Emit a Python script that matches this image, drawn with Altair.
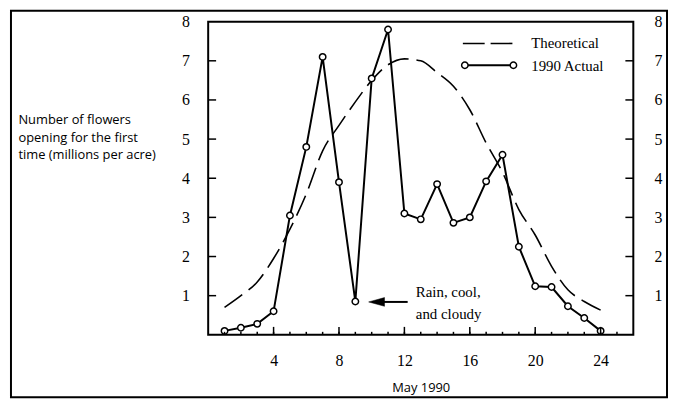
import altair as alt
import pandas as pd

# ---- data ----
days = list(range(1, 25))
actual = [0.1, 0.18, 0.28, 0.6, 3.05, 4.8, 7.1, 3.9, 0.85, 6.55, 7.8, 3.1,
          2.95, 3.85, 2.86, 3.0, 3.92, 4.6, 2.25, 1.24, 1.22, 0.73, 0.43, 0.1]
theoretical = [0.7, 1.0, 1.35, 1.95, 2.7, 3.6, 4.7, 5.35, 5.95, 6.5, 6.9, 7.05,
               7.0, 6.7, 6.35, 5.75, 4.9, 4.15, 3.2, 2.55, 1.75, 1.15, 0.85, 0.63]
x_labels = [4, 8, 12, 16, 20, 24]
x_minor_ticks = list(range(1, 26))
y_labels = [1, 2, 3, 4, 5, 6, 7, 8]
y_ticks = [1, 2, 3, 4, 5, 6, 7]
legend_labels = ["Theoretical", "1990 Actual"]
note_lines = ["Rain, cool,", "and cloudy"]
y_title = ["Number of flowers", "opening for the first", "time (millions per acre)"]
x_title = "May 1990"

SERIF = "Liberation Serif"
SANS = "Open Sans"
W, H = 429, 316

df = pd.DataFrame({"day": days, "actual": actual, "theoretical": theoretical})

xscale = alt.Scale(domain=[0, 26], nice=False, zero=False)
yscale = alt.Scale(domain=[0, 8], nice=False)

x_axis = alt.Axis(values=x_labels, title=x_title, ticks=False, tickSize=0, domain=False,
                  grid=False, labelFont=SERIF, labelFontSize=16, labelPadding=18,
                  labelColor="black", titleFont=SANS, titleFontSize=13,
                  titleFontWeight="normal", titleColor="black", titleY=53,
                  titleBaseline="middle")
y_left = alt.Axis(values=y_labels, orient="left", ticks=False, tickSize=0, domain=False,
                  grid=False, labelFont=SERIF, labelFontSize=16, labelPadding=19,
                  labelColor="black", title=y_title, titleAngle=0, titleAlign="left",
                  titleBaseline="top", titleX=-192, titleY=93, titleLineHeight=17.5,
                  titleFont=SANS, titleFontSize=13, titleFontWeight="normal",
                  titleColor="black")
y_right = alt.Axis(values=y_labels, orient="right", ticks=False, tickSize=0, domain=False,
                   grid=False, labelFont=SERIF, labelFontSize=16, labelPadding=21,
                   labelColor="black", title=None)

X = lambda f: alt.X(f, type="quantitative", scale=xscale, axis=x_axis)

theo = alt.Chart(df).mark_line(color="black", strokeWidth=1.6, strokeDash=[22, 8],
                               interpolate="monotone").encode(
    x=X("day"), y=alt.Y("theoretical:Q", scale=yscale, axis=y_left))

act_line = alt.Chart(df).mark_line(color="black", strokeWidth=2).encode(
    x=X("day"), y=alt.Y("actual:Q", scale=yscale, axis=y_right))

act_pts = alt.Chart(df).mark_point(shape="circle", filled=True, fill="white",
                                   stroke="black", strokeWidth=1.5, size=42,
                                   opacity=1).encode(
    x=X("day"), y=alt.Y("actual:Q", scale=yscale, axis=None))

# axis ticks (inward)
minor_df = pd.DataFrame({"t": x_minor_ticks})
major_df = pd.DataFrame({"t": x_labels})
ytick_df = pd.DataFrame({"v": y_ticks})

xminor = alt.Chart(minor_df).mark_rule(color="black", strokeWidth=1.5).encode(
    x=X("t"), y=alt.value(H), y2=alt.value(H - 3))
xmajor = alt.Chart(major_df).mark_rule(color="black", strokeWidth=1.5).encode(
    x=X("t"), y=alt.value(H), y2=alt.value(H - 8))
yl_ticks = alt.Chart(ytick_df).mark_rule(color="black", strokeWidth=1.5).encode(
    y=alt.Y("v:Q", scale=yscale, axis=None), x=alt.value(0), x2=alt.value(8))
yr_ticks = alt.Chart(ytick_df).mark_rule(color="black", strokeWidth=1.5).encode(
    y=alt.Y("v:Q", scale=yscale, axis=None), x=alt.value(W), x2=alt.value(W - 8))

# annotation: arrow pointing at day 9
arrow_y = 0.84
arrow_head = alt.Chart(pd.DataFrame({"x": [10.3], "y": [arrow_y]})).mark_point(
    shape="M -1 0 L 1 -0.55 L 1 0.55 Z", filled=True, fill="black", stroke="black",
    strokeWidth=0.5, size=256, opacity=1).encode(
    x=X("x"), y=alt.Y("y:Q", scale=yscale, axis=None))
arrow_shaft = alt.Chart(pd.DataFrame({"x1": [10.6], "x2": [12.2], "y": [arrow_y]})).mark_rule(
    color="black", strokeWidth=2).encode(
    x=X("x1"), x2="x2:Q", y=alt.Y("y:Q", scale=yscale, axis=None))
note = alt.Chart(pd.DataFrame({"x": [12.7, 12.7], "y": [1.09, 0.53],
                               "txt": note_lines})).mark_text(
    align="left", baseline="middle", font=SERIF, fontSize=15, color="black").encode(
    x=X("x"), y=alt.Y("y:Q", scale=yscale, axis=None), text="txt:N")

# legend (drawn inside the plot, top right)
one = pd.DataFrame({"a": [0]})
leg_dash = alt.Chart(one).mark_rule(color="black", strokeWidth=1.6, strokeDash=[22, 6]).encode(
    x=alt.value(257), x2=alt.value(309), y=alt.value(22))
leg_line = alt.Chart(one).mark_rule(color="black", strokeWidth=2).encode(
    x=alt.value(259), x2=alt.value(308), y=alt.value(44))
leg_pt1 = alt.Chart(one).mark_point(shape="circle", filled=True, fill="white", stroke="black",
                                    strokeWidth=1.5, size=42, opacity=1).encode(
    x=alt.value(259), y=alt.value(44))
leg_pt2 = alt.Chart(one).mark_point(shape="circle", filled=True, fill="white", stroke="black",
                                    strokeWidth=1.5, size=42, opacity=1).encode(
    x=alt.value(308), y=alt.value(44))
leg_t1 = alt.Chart(one).mark_text(align="left", baseline="middle", font=SERIF, fontSize=15,
                                  color="black", text=legend_labels[0]).encode(
    x=alt.value(326), y=alt.value(22))
leg_t2 = alt.Chart(one).mark_text(align="left", baseline="middle", font=SERIF, fontSize=15,
                                  color="black", text=legend_labels[1]).encode(
    x=alt.value(326), y=alt.value(45))

# outer frame
frame = alt.Chart(one).mark_rect(fillOpacity=0, stroke="black", strokeWidth=2).encode(
    x=alt.value(-199), x2=alt.value(463), y=alt.value(-11), y2=alt.value(379))

chart = alt.layer(
    theo, act_line, act_pts, xminor, xmajor, yl_ticks, yr_ticks,
    arrow_shaft, arrow_head, note,
    leg_dash, leg_line, leg_pt1, leg_pt2, leg_t1, leg_t2, frame
).resolve_scale(y="shared").resolve_axis(y="independent").properties(
    width=W, height=H,
    autosize=alt.AutoSizeParams(type="none"),
    padding={"left": 202, "top": 12, "right": 35, "bottom": 64},
    background="white",
).configure_view(stroke="black", strokeWidth=2)

chart.save("out.html", embed_options={"renderer": "svg", "actions": False})
